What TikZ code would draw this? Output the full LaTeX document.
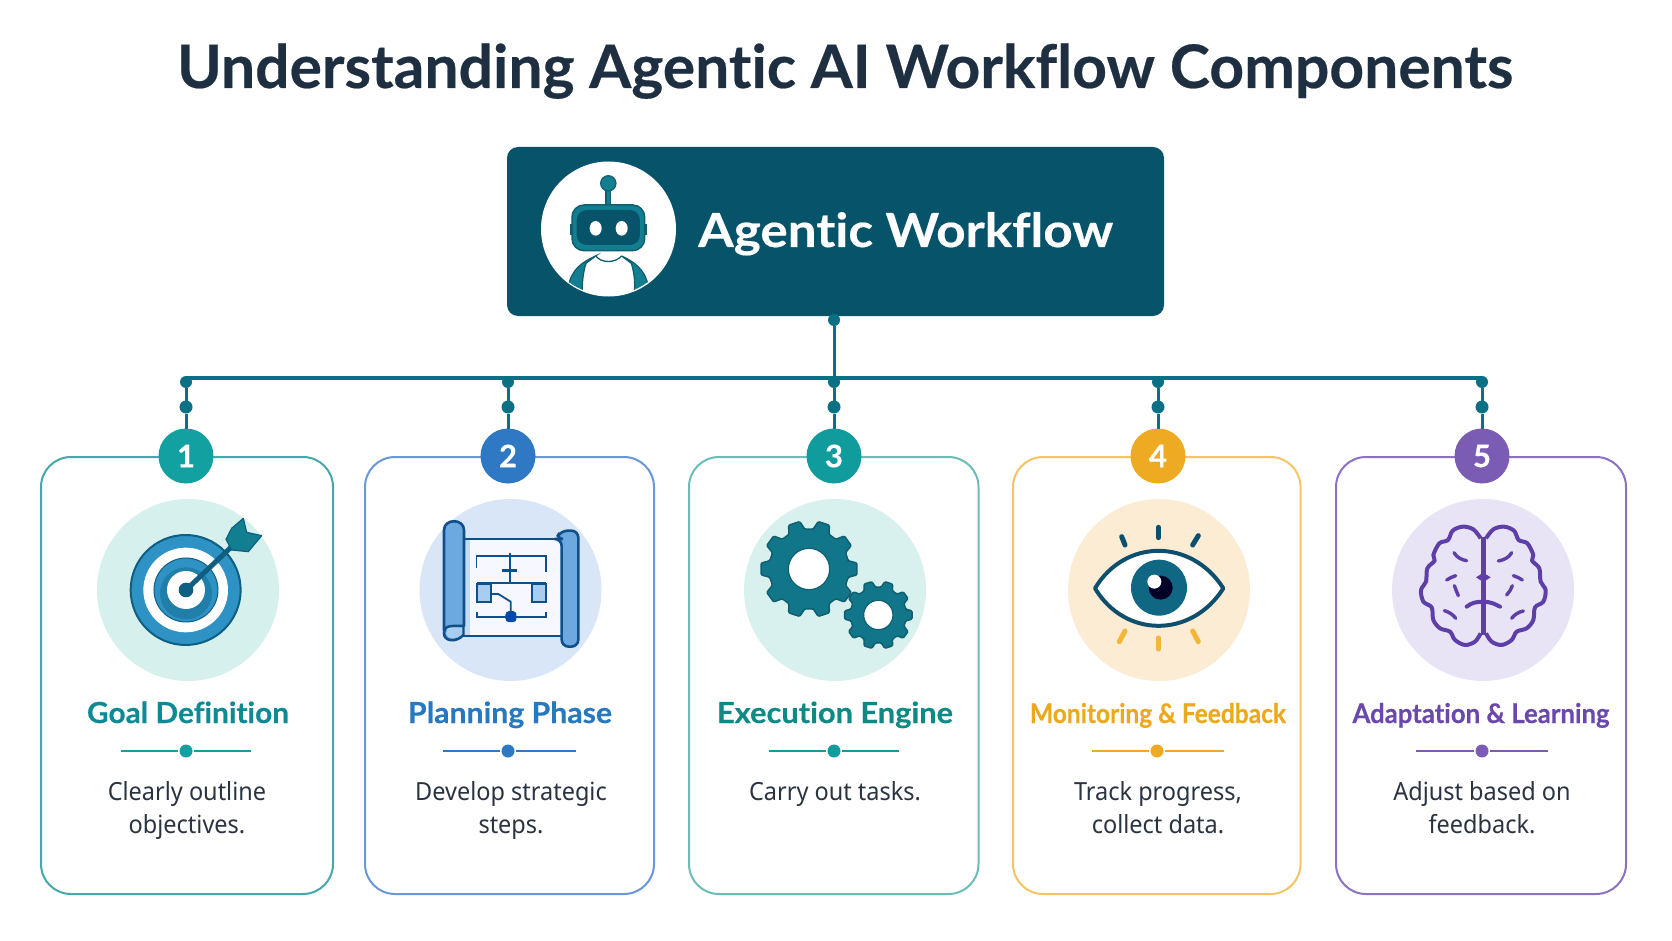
\documentclass[tikz,border=0pt]{standalone}
\usepackage{fontspec}
\usepackage{graphicx}
\setmainfont{Lato}[Ligatures=CommonOff, BoldFeatures={FakeBold=0.35}]
\newfontfamily\bodyfont{Noto Sans}[FakeStretch=0.94]
\usetikzlibrary{calc}
\definecolor{inkc}{HTML}{1E2F42}
\definecolor{bodyc}{HTML}{2A3441}
\definecolor{headc}{HTML}{07546A}
\definecolor{connc}{HTML}{0B7083}
\definecolor{cardc1}{HTML}{45A9AC}
\definecolor{cardc2}{HTML}{6A97D6}
\definecolor{cardc3}{HTML}{6CBCB8}
\definecolor{cardc4}{HTML}{F5C563}
\definecolor{cardc5}{HTML}{8D72C0}
\definecolor{badgec1}{HTML}{12A0A0}
\definecolor{badgec2}{HTML}{2F78C4}
\definecolor{badgec3}{HTML}{109C9C}
\definecolor{badgec4}{HTML}{EEAA22}
\definecolor{badgec5}{HTML}{7A5CB5}
\definecolor{titlec1}{HTML}{0E8A94}
\definecolor{titlec2}{HTML}{2878C0}
\definecolor{titlec3}{HTML}{0E8A84}
\definecolor{titlec4}{HTML}{EDA91C}
\definecolor{titlec5}{HTML}{6A48AD}
\definecolor{discc1}{HTML}{D6F0EE}
\definecolor{discc2}{HTML}{D9E6F7}
\definecolor{discc3}{HTML}{D8F1EE}
\definecolor{discc4}{HTML}{FCECD4}
\definecolor{discc5}{HTML}{E9E3F6}
\definecolor{blued}{HTML}{0F4F8A}
\definecolor{bluem}{HTML}{6EA8E0}
\definecolor{bluel}{HTML}{A9CDF0}
\definecolor{tgtd}{HTML}{0F5F82}
\definecolor{tgtm}{HTML}{2E92C4}
\definecolor{tgti}{HTML}{1F7FA8}
\definecolor{gearf}{HTML}{127F90}
\definecolor{gearb}{HTML}{11768A}
\definecolor{geard}{HTML}{0F5F70}
\definecolor{eyed}{HTML}{0D4F6C}
\definecolor{irisc}{HTML}{0F6783}
\definecolor{yell}{HTML}{F3B637}
\definecolor{brainc}{HTML}{5E3FA8}
\newcommand{\fitw}[3]{\resizebox{#1pt}{\height}{\fontsize{#2}{#2}\selectfont #3}}
\newcommand{\gearpath}[5]{% cx cy outer root hole
  \begin{scope}[shift={(#1,#2)}]
    \draw[fill=gearb, draw=geard, line width=1.5pt, line join=round, rounded corners=1.2pt]
      (-13:#4) \foreach \k in {0,36,...,324} { -- ({\k-12}:#4) -- ({\k-7}:#3) -- ({\k+7}:#3) -- ({\k+12}:#4) } -- cycle;
    \fill[white] (0,0) circle (#5);
    \draw[geard, line width=1.2pt] (0,0) circle (#5);
  \end{scope}}
\tikzset{
  cardbox/.style={draw, line width=2pt, rounded corners=30pt, inner sep=0pt, outer sep=0pt, anchor=north west},
  disc/.style={circle, inner sep=0pt, outer sep=0pt, minimum size=182pt},
  badge/.style={circle, inner sep=0pt, outer sep=0pt, minimum size=55pt, text=white, font=\fontsize{31}{31}\selectfont\bfseries},
  knob/.style={circle, fill=connc, inner sep=0pt, outer sep=0pt, minimum size=12pt},
  conn/.style={draw=connc, line width=3pt},
  midknob/.style={circle, inner sep=0pt, outer sep=0pt, minimum size=13pt},
  dividerl/.style={line width=2.5pt},
  cardtitle/.style={anchor=base, inner sep=0pt, font=\bfseries},
  bodytext/.style={anchor=base, inner sep=0pt, align=center, text=bodyc, font=\bodyfont\fontsize{25}{33}\selectfont},
  ic/.style={x=.3333pt, y=-.3333pt}
}
\begin{document}
\begin{tikzpicture}[x=1pt,y=-1pt]
\useasboundingbox (0,0) rectangle (1672,941);
\fill[white] (0,0) rectangle (1672,941);

\node[anchor=base, inner sep=0pt, text=inkc, font=\bfseries] (title) at (845,88) {\fitw{1336}{60}{Understanding Agentic AI Workflow Components}};

% header
\node[draw=none, fill=headc, rounded corners=11pt, minimum width=657pt, minimum height=169pt, inner sep=0pt, outer sep=0pt, anchor=north west] (head) at (507,147) {};
\node[circle, fill=white, minimum size=135pt, inner sep=0pt, outer sep=0pt] (face) at (608.5,229) {};
\node[anchor=base west, inner sep=0pt, text=white, font=\bfseries] (headtext) at (698,247) {\fitw{415}{47}{Agentic Workflow}};

% robot
\begin{scope}[shift={(530,150)},ic]
  \begin{scope}
    \clip (235,235) circle (200);
    \draw[fill=gearf, draw=geard, line width=1.3pt] (115,410) .. controls (125,355) and (160,335) .. (197,318) -- (168,340) .. controls (160,365) and (156,395) .. (157,425) -- cycle;
    \draw[fill=gearf, draw=geard, line width=1.3pt] (355,410) .. controls (345,355) and (310,335) .. (275,318) -- (304,340) .. controls (312,365) and (316,395) .. (313,425) -- cycle;
    \draw[geard, line width=1.3pt] (197,318) .. controls (215,340) and (255,340) .. (275,318);
  \end{scope}
  \draw[fill=gearf, draw=geard, line width=1.5pt] (228,115) rectangle (242,168);
  \draw[fill=gearf, draw=geard, line width=1.2pt] (235,100) circle (23);
  \draw[fill=geard, draw=geard, line width=1pt] (120,225) rectangle (130,255);
  \draw[fill=geard, draw=geard, line width=1pt] (340,225) rectangle (350,255);
  \draw[fill=gearf, draw=geard, line width=1.5pt, rounded corners=12pt] (126,165) rectangle (344,302);
  \fill[headc, rounded corners=10pt] (140,180) rectangle (330,285);
  \fill[white] (197,235) ellipse (18 and 22);
  \fill[white] (275,235) ellipse (18 and 22);
\end{scope}

% cards
\foreach \i/\xl/\w/\bx/\dcx/\dl/\dr/\dsc in {
   1/41/292/186/188/121/251/186,
   2/365/289/508/510.5/442.5/576/508,
   3/689/289.5/834/835/769/899/834,
   4/1013/287.5/1158/1159/1092/1223.5/1157,
   5/1336/290/1482/1483/1416/1548/1482}{
  \node[cardbox, draw=cardc\i, minimum width=\w pt, minimum height=437pt] (card\i) at (\xl,457) {};
  \node[disc, fill=discc\i] (disc\i) at (\dcx,590) {};
  \node[badge, fill=badgec\i] (badge\i) at (\bx,456) {\i};
  \node[knob] (jn\i) at (\bx,382) {};
  \node[knob, minimum size=13pt] (mid\i) at (\bx,407) {};
  \draw[conn] (jn\i) -- (mid\i);
  \draw[conn] (mid\i) -- (badge\i);
  \node[midknob, fill=badgec\i] (dv\i) at (\dsc,751) {};
  \coordinate (dvl\i) at (\dl,751);
  \coordinate (dvr\i) at (\dr,751);
  \draw[dividerl, draw=badgec\i] (dvl\i) -- ($(dv\i)+(-8,0)$);
  \draw[dividerl, draw=badgec\i] ($(dv\i)+(8,0)$) -- (dvr\i);
}
\node[knob] (topk) at (834,320) {};
\draw[conn] (topk) -- (jn3);
\draw[draw=connc, line width=4pt] (jn1.north) ++(0,2) -- ($(jn5.north)+(0,2)$);

% card texts
\node[cardtitle, text=titlec1] (t1) at (188,723) {\fitw{202}{29}{Goal Definition}};
\node[cardtitle, text=titlec2] (t2) at (510,723) {\fitw{204}{29}{Planning Phase}};
\node[cardtitle, text=titlec3] (t3) at (835,723) {\fitw{236}{29}{Execution Engine}};
\node[cardtitle, text=titlec4] (t4) at (1158,723) {\fitw{256}{27}{Monitoring \& Feedback}};
\node[cardtitle, text=titlec5] (t5) at (1481,723) {\fitw{257}{27}{Adaptation \& Learning}};
\node[bodytext] (d1) at (187,833) {Clearly outline\\objectives.};
\node[bodytext] (d2) at (511,833) {Develop strategic\\steps.};
\node[bodytext] (d3) at (835,800) {Carry out tasks.};
\node[bodytext] (d4) at (1158,833) {Track progress,\\collect data.};
\node[bodytext] (d5) at (1482,833) {Adjust based on\\feedback.};

% target
\begin{scope}[shift={(100,500)},ic]
  \draw[fill=tgtm, draw=tgtd, line width=2pt] (257,270) circle (165);
  \fill[white] (257,270) circle (127);
  \draw[fill=tgtm, draw=tgtd, line width=1pt] (258,270) circle (96);
  \fill[tgti] (258,280) circle (78);
  \fill[white] (258,270) circle (57);
  \fill[tgtd] (258,270) circle (22);
  \draw[tgtd, line width=5pt, line cap=round] (258,270) -- (395,140);
  \draw[fill=gearf, draw=tgtd, line width=1.2pt, line join=round] (430,55) -- (440,97) -- (485,107) -- (445,155) -- (395,150) -- (378,118) -- (395,85) -- cycle;
\end{scope}

% blueprint
\begin{scope}[shift={(420,500)},ic]
  \fill[blue!3!white] (125,117) rectangle (430,408);
  \fill[bluel!70!white] (125,117) rectangle (150,408);
  \draw[blued, line width=2.6pt] (125,117) -- (430,117);
  \draw[blued, line width=2.6pt] (100,408) -- (430,408);
  \draw[fill=bluem, draw=blued, line width=2.6pt, line join=round] (72,392) -- (72,90) .. controls (72,55) and (132,55) .. (132,90) -- (132,378) -- (100,378) .. controls (80,378) and (72,385) .. (72,400) .. controls (72,425) and (110,428) .. (130,405) -- (130,378);
  \fill[bluel] (78,400) .. controls (80,385) and (100,382) .. (127,382) -- (127,402) .. controls (110,420) and (80,418) .. (78,400) -- cycle;
  \draw[fill=bluem, draw=blued, line width=2.6pt, rounded corners=7pt] (422,92) -- (475,92) -- (475,440) -- (425,440) -- (425,117) -- (408,117) -- cycle;
  \draw[blued, line width=1.6pt] (170,205) -- (170,168) -- (378,168) -- (378,215);
  \draw[blued, line width=1.8pt] (270,158) -- (270,250);
  \draw[blued, line width=3pt] (247,211) -- (290,211);
  \draw[blued, line width=1.8pt] (170,250) -- (378,250);
  \draw[fill=bluel, draw=blued, line width=1.8pt] (170,252) rectangle (212,305);
  \draw[fill=bluel, draw=blued, line width=1.8pt] (335,252) rectangle (378,305);
  \draw[blued, line width=1.8pt, line join=round] (212,282) -- (235,282) -- (272,305) -- (272,340);
  \draw[blued, line width=1.8pt] (170,335) -- (170,352) -- (378,352) -- (378,337);
  \draw[fill=blue!60!cyan!70!black, draw=blued, line width=1pt, rounded corners=3pt] (258,335) rectangle (288,365);
\end{scope}

% gears
\begin{scope}[shift={(745,500)},ic]
  \gearpath{192}{207}{145}{120}{62}
  \gearpath{400}{345}{102}{84}{44}
\end{scope}

% eye
\begin{scope}[shift={(1070,500)},ic]
  \draw[fill=white, draw=eyed, line width=4pt, line join=round] (75,265) .. controls (165,115) and (365,115) .. (460,265) .. controls (365,415) and (165,415) .. (75,265) -- cycle;
  \fill[irisc] (267,263) circle (84);
  \fill[black!85!blue] (272,263) circle (36);
  \fill[white] (253,245) circle (21);
  \draw[eyed, line width=5pt, line cap=round] (155,110) -- (165,135);
  \draw[eyed, line width=5pt, line cap=round] (265,82) -- (265,113);
  \draw[eyed, line width=5pt, line cap=round] (385,107) -- (368,135);
  \draw[yell, line width=5pt, line cap=round] (165,393) -- (148,425);
  \draw[yell, line width=5pt, line cap=round] (265,414) -- (265,447);
  \draw[yell, line width=5pt, line cap=round] (368,393) -- (385,425);
\end{scope}

% brain
\begin{scope}[shift={(1390,500)},ic]
  \draw[brainc, line width=4pt, line join=round] plot[smooth, tension=.55] coordinates {(272,115) (250,88) (218,80) (188,92) (174,120) (148,130) (130,165) (134,182) (112,205) (108,245) (93,270) (100,305) (125,322) (130,360) (150,385) (180,395) (195,420) (225,435) (255,425) (272,400)};
  \draw[brainc, line width=4pt, line join=round] plot[smooth, tension=.55] coordinates {(288,115) (310,88) (342,80) (372,92) (386,120) (412,130) (430,165) (426,182) (448,205) (452,245) (467,270) (460,305) (435,322) (430,360) (410,385) (380,395) (365,420) (335,435) (305,425) (288,400)};
  \draw[brainc, line width=5pt] (280,112) -- (280,405);
  \fill[brainc] (258,232) -- (280,218) -- (302,232) -- (280,246) -- cycle;
  \draw[brainc, line width=3.4pt, line cap=round] (192,158) .. controls (200,172) and (215,180) .. (230,182);
  \draw[brainc, line width=3.4pt, line cap=round] (170,240) .. controls (180,234) and (188,230) .. (197,227);
  \draw[brainc, line width=3.4pt, line cap=round] (193,257) .. controls (198,268) and (200,278) .. (205,287);
  \draw[brainc, line width=3.4pt, line cap=round] (163,332) .. controls (178,336) and (190,345) .. (197,355);
  \draw[brainc, line width=4pt, line cap=round] (230,320) .. controls (245,308) and (260,305) .. (280,305) .. controls (300,305) and (315,312) .. (330,320);
  \draw[brainc, line width=3.4pt, line cap=round] (365,158) .. controls (358,172) and (342,180) .. (325,183);
  \draw[brainc, line width=3.4pt, line cap=round] (397,240) .. controls (388,234) and (380,230) .. (370,227);
  \draw[brainc, line width=3.4pt, line cap=round] (367,257) .. controls (362,268) and (358,278) .. (350,285);
  \draw[brainc, line width=3.4pt, line cap=round] (400,333) .. controls (385,336) and (372,345) .. (365,355);
\end{scope}
\end{tikzpicture}
\end{document}
